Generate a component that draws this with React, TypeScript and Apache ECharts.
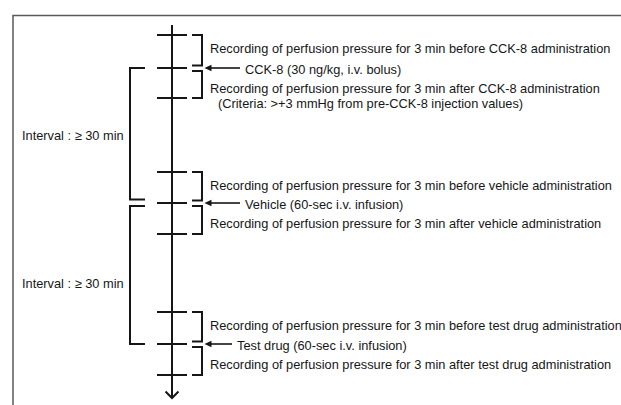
import React, { useEffect, useRef } from "react";
import * as echarts from "echarts";

// ---- Diagram content (timeline units = vertical position along the time arrow) ----
const stepNames = [
  "CCK-8 (30 ng/kg, i.v. bolus)",
  "Vehicle (60-sec i.v. infusion)",
  "Test drug (60-sec i.v. infusion)",
];
const beforeTexts = [
  "Recording of perfusion pressure for 3 min before CCK-8 administration",
  "Recording of perfusion pressure for 3 min before vehicle administration",
  "Recording of perfusion pressure for 3 min before test drug administration",
];
const afterTexts = [
  "Recording of perfusion pressure for 3 min after CCK-8 administration",
  "Recording of perfusion pressure for 3 min after vehicle administration",
  "Recording of perfusion pressure for 3 min after test drug administration",
];
const criteriaText = "(Criteria: >+3 mmHg from pre-CCK-8 injection values)";
const intervalTexts = ["Interval : \u2265 30 min", "Interval : \u2265 30 min"];

const recordStart = [35, 172, 312];
const injection = [68, 203, 344];
const recordEnd = [98, 234, 375];
const stepLabelX = [245, 245, 237];
const intervalLabelY = [135, 283];
const timelineStart = 25;
const timelineEnd = 398;

const INK = "#161616";
const FONT = '12.8px "Liberation Sans", Arial, sans-serif';

export default function App() {
  const ref = useRef<HTMLDivElement>(null);

  useEffect(() => {
    document.body.style.margin = "0";
    if (!ref.current) return;
    const chart = echarts.init(ref.current, null, { renderer: "svg" });

    const AX = 172; // timeline x
    const line = (api: any, a: number[], b: number[], w = 2) => {
      const p = api.coord(a);
      const q = api.coord(b);
      return {
        type: "line",
        shape: { x1: p[0], y1: p[1], x2: q[0], y2: q[1] },
        style: { stroke: INK, lineWidth: w },
      };
    };
    const poly = (api: any, pts: number[][], w = 2) => ({
      type: "polyline",
      shape: { points: pts.map((p) => api.coord(p)) },
      style: { stroke: INK, lineWidth: w, fill: "none" },
    });
    const text = (api: any, t: string, x: number, y: number) => {
      const p = api.coord([x, y]);
      return {
        type: "text",
        style: {
          text: t,
          x: p[0],
          y: p[1],
          fill: INK,
          font: FONT,
          align: "left",
          verticalAlign: "middle",
        },
      };
    };

    const stepRender = (params: any, api: any) => {
      const i = api.value(0);
      const s = recordStart[i];
      const m = injection[i];
      const e = recordEnd[i];
      const children: any[] = [];
      // ticks on timeline
      [s, m, e].forEach((y) => children.push(line(api, [157, y], [187, y], 2)));
      // right brackets
      children.push(poly(api, [[192, s], [202, s], [202, m - 2.5], [192, m - 2.5]], 2));
      children.push(poly(api, [[192, m + 3], [202, m + 3], [202, e], [192, e]], 2));
      // arrow to bracket gap
      children.push(line(api, [stepLabelX[i] - 5, m], [209, m], 1.6));
      const tip = api.coord([204.5, m]);
      const b1 = api.coord([211.5, m - 3.2]);
      const b2 = api.coord([211.5, m + 3.2]);
      children.push({
        type: "polygon",
        shape: { points: [tip, b1, b2] },
        style: { fill: INK },
      });
      // texts
      children.push(text(api, beforeTexts[i], 210, s + 13));
      children.push(text(api, stepNames[i], stepLabelX[i], m + 1));
      children.push(text(api, afterTexts[i], 210, m + 20));
      if (i === 0) children.push(text(api, criteriaText, 218, m + 35));
      return { type: "group", children };
    };

    const frameRender = (params: any, api: any) => {
      const children: any[] = [];
      // main time arrow
      children.push(line(api, [AX, timelineStart], [AX, timelineEnd], 2));
      children.push(poly(api, [[AX - 6.5, timelineEnd - 6.5], [AX, timelineEnd], [AX + 6.5, timelineEnd - 6.5]], 2));
      // interval brackets
      children.push(poly(api, [[145, injection[0]], [130, injection[0]], [130, injection[1] - 3.5], [145, injection[1] - 3.5]], 2));
      children.push(poly(api, [[145, injection[1] + 3], [130, injection[1] + 3], [130, injection[2]], [145, injection[2]]], 2));
      intervalTexts.forEach((t, k) => children.push(text(api, t, 22, intervalLabelY[k])));
      return { type: "group", children };
    };

    chart.setOption({
      animation: false,
      backgroundColor: "#ffffff",
      grid: { left: 0, right: 0, top: 0, bottom: 0 },
      xAxis: { type: "value", min: 0, max: 621, show: false },
      yAxis: { type: "value", min: 0, max: 405, inverse: true, show: false },
      graphic: [
        {
          type: "polyline",
          shape: { points: [[13, 406], [13, 15.5], [621, 15.5]] },
          style: { stroke: "#5a5a5a", lineWidth: 1.5, fill: "none" },
          silent: true,
        },
      ],
      series: [
        {
          type: "custom",
          renderItem: frameRender,
          data: [[0]],
          silent: true,
        },
        {
          type: "custom",
          renderItem: stepRender,
          data: stepNames.map((_, i) => [i]),
          silent: true,
        },
      ],
    });

    return () => chart.dispose();
  }, []);

  return <div ref={ref} style={{ width: 621, height: 405 }} />;
}
